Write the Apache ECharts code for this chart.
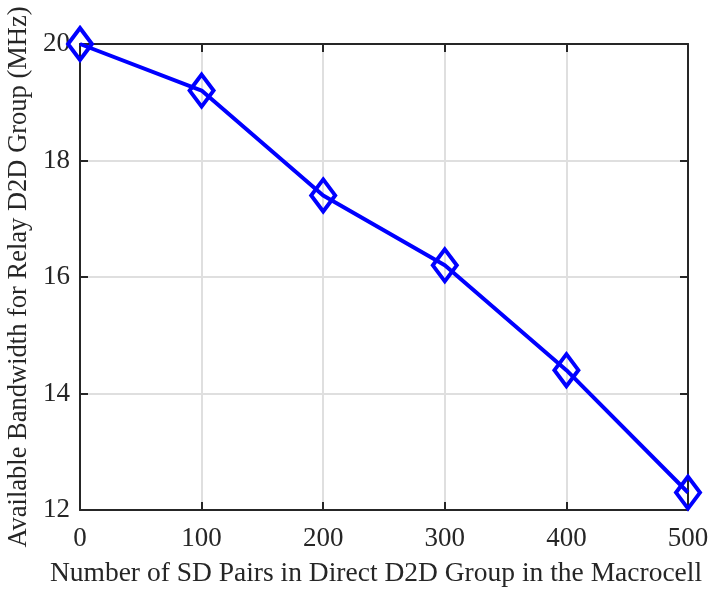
<!DOCTYPE html>
<html>
<head>
<meta charset="utf-8">
<script src="https://cdn.jsdelivr.net/npm/echarts@6/dist/echarts.min.js"></script>
<style>
  html, body { margin: 0; padding: 0; background: #fff; }
  #chart { width: 717px; height: 590px; }
</style>
</head>
<body>
<div id="chart"></div>
<script>
// Number of SD pairs in the direct D2D group
const sdPairs = [0, 100, 200, 300, 400, 500];
// Bandwidth left over for the relay D2D group (MHz)
const relayBandwidth = [20, 19.2, 17.4, 16.2, 14.4, 12.3];
const xTitle = 'Number of SD Pairs in Direct D2D Group in the Macrocell';
const yTitle = 'Available Bandwidth for Relay D2D Group (MHz)';

const font = 'Liberation Serif, Times New Roman, serif';
const axisColor = '#262626';
const gridColor = '#dfdfdf';

const chart = echarts.init(document.getElementById('chart'), null, { renderer: 'canvas' });

const baseX = {
  type: 'value', min: 0, max: 500, interval: 100,
  axisLine: { show: true, onZero: false, lineStyle: { color: axisColor, width: 2 } },
  axisTick: { show: true, inside: true, length: 8, lineStyle: { color: axisColor, width: 2 } },
  splitLine: { show: false }
};
const baseY = {
  type: 'value', min: 12, max: 20, interval: 2,
  axisLine: { show: true, onZero: false, lineStyle: { color: axisColor, width: 2 } },
  axisTick: { show: true, inside: true, length: 8, lineStyle: { color: axisColor, width: 2 } },
  splitLine: { show: false }
};

chart.setOption({
  animation: false,
  grid: { left: 80, right: 29, top: 44, bottom: 80, containLabel: false, outerBoundsMode: 'none' },
  xAxis: [
    Object.assign({}, baseX, {
      position: 'bottom',
      name: xTitle, nameLocation: 'middle', nameGap: 50,
      nameTextStyle: { fontFamily: font, fontSize: 27.5, color: axisColor, padding: [0, 16, 0, 0] },
      axisLabel: { fontFamily: font, fontSize: 27, color: axisColor, margin: 15 },
      splitLine: { show: true, lineStyle: { color: gridColor, width: 2 } }
    }),
    Object.assign({}, baseX, { position: 'top', axisLabel: { show: false } })
  ],
  yAxis: [
    Object.assign({}, baseY, {
      position: 'left',
      name: yTitle, nameLocation: 'middle', nameGap: 46,
      nameTextStyle: { fontFamily: font, fontSize: 26.5, color: axisColor },
      axisLabel: { fontFamily: font, fontSize: 27, color: axisColor, margin: 10 },
      splitLine: { show: true, lineStyle: { color: gridColor, width: 2 } }
    }),
    Object.assign({}, baseY, { position: 'right', axisLabel: { show: false } })
  ],
  series: [{
    type: 'line',
    data: sdPairs.map((x, i) => [x, relayBandwidth[i]]),
    symbol: 'diamond',
    symbolSize: [24, 32],
    showAllSymbol: true,
    clip: false,
    lineStyle: { color: '#0000ff', width: 4 },
    itemStyle: { color: 'rgba(0,0,0,0)', borderColor: '#0000ff', borderWidth: 4 },
    z: 5
  }]
});
</script>
</body>
</html>
